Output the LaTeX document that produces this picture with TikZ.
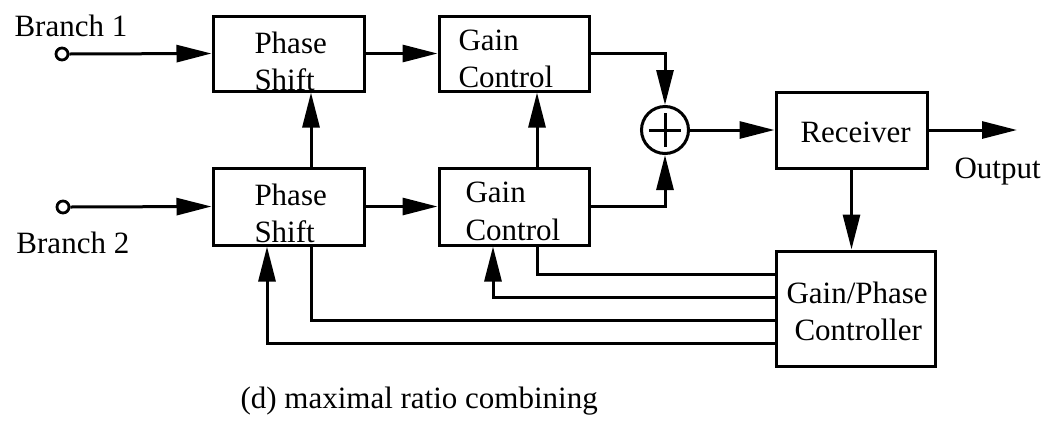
\documentclass[tikz,border=0pt]{standalone}
\usepackage{fontspec}
\setmainfont{Liberation Serif}
\usetikzlibrary{arrows.meta,calc}
\begin{document}
\begin{tikzpicture}[x=0.5pt,y=-0.5pt,
  line width=1.5pt,
  txt/.style={anchor=base west,inner sep=0pt,font=\fontsize{15.5}{18}\selectfont},
  blk/.style={draw,line width=1.5pt,inner sep=0pt,minimum width=#1},
  blk/.default=75pt,
  term/.style={draw,circle,line width=1.4pt,inner sep=0pt,minimum size=6pt,fill=white},
  arr/.style={-{Triangle[length=17.5pt,width=8.5pt]}},
]
\useasboundingbox (0,0) rectangle (1050,424);

% branch inputs
\node[term] (t1) at (62,54) {};
\node[term] (t2) at (63,207) {};
\node[txt] (lb1) at (13,36) {Branch 1};
\node[txt] (lb2) at (15,253) {Branch 2};

% processing blocks
\node[blk=75.5pt,minimum height=37.5pt] (ps1) at (288.5,53.5) {};
\node[blk=75pt,minimum height=37.5pt] (gc1) at (514,53.5) {};
\node[blk=75.5pt,minimum height=38.5pt] (ps2) at (288.5,206.5) {};
\node[blk=75pt,minimum height=38.5pt] (gc2) at (514,206.5) {};
\node[blk=75.5pt,minimum height=38pt] (rx) at (851.5,130) {};
\node[blk=79.5pt,minimum height=57.5pt] (ctl) at (855.5,308.5) {};
\node[draw,circle,line width=1.5pt,minimum size=23.5pt,inner sep=0pt] (sum) at (665,130) {};
\draw ($(sum.center)+(-16,0)$) -- ($(sum.center)+(16,0)$);
\draw ($(sum.center)+(0,-17)$) -- ($(sum.center)+(0,17)$);

% block texts
\node[txt] (ps1a) at (253,53) {Phase};
\node[txt] (ps1b) at (253,90) {Shift};
\node[txt] (gc1a) at (457,50) {Gain};
\node[txt] (gc1b) at (457,87) {Control};
\node[txt] (ps2a) at (253,205) {Phase};
\node[txt] (ps2b) at (253,242) {Shift};
\node[txt] (gc2a) at (464,202) {Gain};
\node[txt] (gc2b) at (464,240) {Control};
\node[txt] (rxa) at (799,142) {Receiver};
\node[txt] (ctla) at (785,303) {Gain/Phase};
\node[txt] (ctlb) at (793,340) {Controller};
\node[txt] (outl) at (953,178) {Output};
\node[txt] (cap) at (239,408) {(d) maximal ratio combining};

% helper coordinates for vertical and horizontal runs
\coordinate (vps) at (311,0);
\coordinate (vgc) at (537,0);
\coordinate (vgcin) at (493,0);
\coordinate (vpsin) at (267,0);
\coordinate (h1) at (0,274);
\coordinate (h2) at (0,297);
\coordinate (h3) at (0,320);
\coordinate (h4) at (0,343);
\coordinate (out) at (1017,130);

% forward signal path
\draw[arr] (t1.east) -- (ps1.west);
\draw[arr] (t2.east) -- (ps2.west);
\draw[arr] (ps1.east) -- (gc1.west);
\draw[arr] (ps2.east) -- (gc2.west);
\draw[arr] (ps2.north -| vps) -- (ps1.south -| vps);
\draw[arr] (gc2.north -| vgc) -- (gc1.south -| vgc);
\draw[arr] (gc1.east) -| (sum.north);
\draw[arr] (gc2.east) -| (sum.south);
\draw[arr] (sum.east) -- (rx.west);
\draw[arr] (rx.east) -- (out);
\draw[arr] (rx.south) -- (rx.south |- ctl.north);

% controller feedback
\draw (gc2.south -| vgc) |- (ctl.west |- h1);
\draw[arr] (ctl.west |- h2) -| (gc2.south -| vgcin);
\draw (ps2.south -| vps) |- (ctl.west |- h3);
\draw[arr] (ctl.west |- h4) -| (ps2.south -| vpsin);
\end{tikzpicture}
\end{document}
